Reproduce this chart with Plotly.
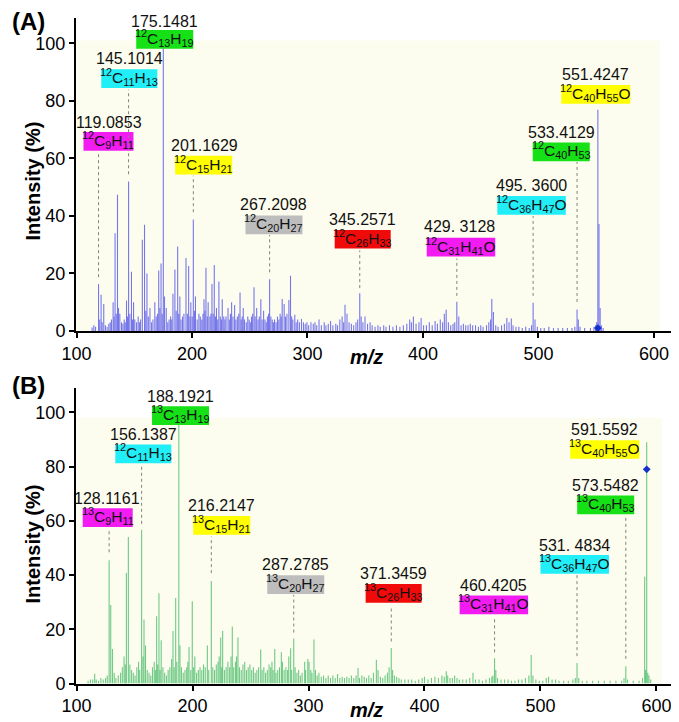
import plotly.graph_objects as go

# ---------------- data: panel A (12C) ----------------
A_mz = [113.5, 115, 116.5, 119.09, 120.1, 121.3, 122.2, 123.6, 125, 126.5,
        128, 129.2, 130.3, 131.7, 132.5, 133.4, 134.4, 135.5, 136.4, 137.5,
        139, 140.2, 141.3, 142.2, 143.3, 144.2, 145.10, 146.2, 147.6, 148.5,
        149.4, 150.5, 152, 153.4, 154.5, 155.5, 157.0, 158.9, 160.0, 161.0,
        162.2, 163.6, 165, 166.2, 167.8, 169, 170.2, 171.2, 172.2, 173.2,
        174.2, 175.15, 176.2, 177.7, 179, 180.2, 181.5, 182.5, 183.5, 185.2,
        186.3, 187.6, 188.5, 189.5, 190.5, 191.8, 193, 194.8, 196, 197.1,
        198.2, 199, 200.2, 201.16, 202.2, 203, 204.5, 206, 207.2, 208.5,
        209.5, 210.4, 211.2, 212.1, 213.2, 214, 215.5, 216.4, 217.3, 218.3,
        219.3, 220.3, 221.2, 222.3, 223.3, 224.5, 225.4, 226.2, 227.5, 228.5,
        229.5, 231.2, 232.3, 233.3, 234.3, 235.5, 236.9, 238, 239.3, 240.5,
        241.6, 242.6, 243.5, 244.4, 245.5, 247, 248.3, 249.5, 250.5, 251.5,
        252.5, 253.7, 254.7, 256, 257.2, 258.3, 259.6, 260.7, 262, 263.2,
        264.3, 265.3, 266.3, 267.21, 268.3, 269.5, 270.5, 271.5, 272.8, 274,
        275.2, 276.3, 277.2, 278.1, 279.8, 281, 282.2, 283.9, 285.3, 286.3,
        287.3, 289, 290.2, 291.5, 293, 294.8, 296.5, 298, 299.5, 301,
        303, 305, 306.5, 308, 310, 312, 314.5, 316, 318, 320,
        322, 324.5, 326, 328, 330, 331.3, 332.5, 334.2, 336, 338,
        340, 342, 343.5, 345.26, 346.5, 348, 349.8, 352, 354.2, 356,
        358.5, 361, 363, 366, 368, 371, 374, 377, 380, 383,
        386, 388.5, 390, 391.7, 394, 396.5, 398.4, 400.5, 403, 405.5,
        408, 410.5, 412.5, 415, 417, 418.5, 420.1, 422, 424, 426,
        427.5, 429.31, 431, 433, 435, 437, 439, 441, 443, 445.5,
        448, 450, 452, 455, 457, 458.5, 459.6, 461, 463, 465,
        468, 470.5, 472.6, 474.5, 476.5, 478, 480.5, 483, 486, 489,
        492, 494, 495.36, 497, 499, 502, 505, 509, 513, 517,
        521, 525, 529, 531.5, 533.41, 534.5, 536, 540, 545, 548,
        549.5, 550.4, 551.42, 552.4, 553.4, 554.5, 556]
A_int = [1.2, 2.0, 1.5, 16.3, 4, 12.6, 3, 9.4, 2, 1.5,
         2.5, 3, 4, 10, 5, 34, 6, 47.4, 8, 6,
         3, 2.5, 4, 3, 10.6, 5, 52, 6, 20.6, 4,
         10, 4, 3, 5, 3, 4, 31.7, 36.9, 7, 20,
         5, 8, 3, 4, 10, 5, 6, 21, 8, 23.5,
         6, 100, 12, 8, 3, 4, 5, 4, 12.9, 21.4,
         7, 29.4, 6, 12, 4, 5, 6, 25.4, 6, 22.6,
         5, 10, 5, 38.8, 7, 12, 4, 6, 5, 4,
         6, 11, 7, 22, 5, 10, 5, 6, 16.3, 6,
         22.9, 5, 8, 4, 17.2, 5, 4, 11, 5, 4,
         5, 8, 4, 6, 10, 5, 9, 4, 5, 6,
         13.4, 4, 5, 8, 4, 3, 5, 4, 3, 5,
         6, 15.2, 5, 8, 4, 5, 11, 4, 7, 4,
         3, 5, 6, 18, 5, 4, 3, 4, 3, 5,
         4, 6, 5, 11.1, 9.4, 5, 6, 10.8, 19.2, 5,
         4, 5.6, 3, 4, 3, 4.2, 3, 2.5, 3, 2,
         3, 2.5, 3, 2, 4, 2, 3, 2, 2.5, 3.5,
         2, 2.5, 2, 4, 5, 3, 9.1, 6, 3, 2.5,
         2, 3, 4, 13.1, 5, 3, 5, 2.5, 3, 2,
         1.5, 2, 1.5, 2, 1.5, 2, 1.5, 2, 1.5, 2,
         2.5, 4, 3, 5, 2.5, 3, 4.5, 2, 2, 3,
         2, 3.5, 2.5, 4, 3, 6, 7.4, 3, 2, 2.5,
         3, 10.2, 5, 2, 2.5, 2, 2, 2.5, 2, 2,
         1.5, 2, 1.5, 2, 3, 4, 11.1, 6.6, 2, 1.5,
         2, 2.5, 4.5, 3, 4.3, 2, 1.5, 1.5, 1, 1.5,
         1, 2, 9.8, 4, 1.5, 1, 1, 1.5, 1, 1,
         1, 1, 1, 1.5, 7.5, 4, 1.5, 1, 1, 1.5,
         2, 3, 76.9, 37.2, 8, 2, 1]

# ---------------- data: panel B (13C) ----------------
B_mz = [110, 112, 114, 115.7, 117, 119, 121, 123, 125, 126.5,
        128.12, 129.5, 131, 132.5, 134, 136, 138, 139.5, 141, 142,
        143, 144.7, 146, 147.5, 149, 150.5, 152, 153.5, 154.5, 156.14,
        157.3, 158.2, 159.5, 161, 162.5, 164, 165.5, 167, 168, 169.1,
        170, 171.1, 172, 173, 174.5, 176, 177.5, 179, 180.5, 182,
        183.2, 184.2, 185.5, 186.5, 188.19, 189.2, 190.5, 192, 193.5, 195,
        196, 197, 198.5, 199.8, 201, 202, 203.5, 205, 206.5, 208,
        209.5, 211, 212.8, 214, 216.21, 217.5, 219, 220.5, 222, 223,
        224.3, 225.2, 226, 227.5, 229, 230.5, 232, 233.2, 234.3, 235.5,
        237, 238, 239.2, 240.5, 242, 243.5, 245, 246.5, 248, 249.5,
        251, 252.5, 254, 255.5, 257, 258.8, 260, 261.5, 263, 264.5,
        266, 267.4, 268.5, 269.5, 270.9, 272, 273.5, 275, 276.6, 277.5,
        279, 280.5, 282, 283, 284.6, 285.5, 287.28, 288.5, 290, 291.5,
        293, 294.5, 296.7, 297.5, 299.4, 300.5, 302, 303, 304.7, 306,
        307.5, 309, 311, 313, 315, 317, 319, 321, 323, 325,
        327, 329, 331, 333, 335, 337, 339, 341, 342.7, 344,
        346, 348, 350, 352, 354, 356, 358.5, 360, 362, 364,
        366, 368, 369.5, 371.35, 372.5, 374, 376, 378, 380, 383,
        386, 389, 392, 395, 398, 400, 403, 406, 409, 412,
        415, 417, 418.8, 420, 422, 424, 426, 428, 430, 433,
        436, 439, 441.8, 444, 447, 450, 453, 456, 458, 459,
        460.42, 461.5, 463, 466, 469, 472, 475, 478, 481, 484,
        487, 490, 492, 493.5, 496, 499, 502, 505, 507, 510,
        513, 516, 520, 524, 528, 530, 531.48, 533, 536, 540,
        545, 550, 555, 560, 565, 570, 572, 573.55, 575, 580,
        585, 588, 589.8, 590.6, 591.56, 592.5, 593.5, 595]
B_int = [1, 1.5, 1.5, 3.6, 1.5, 1, 2, 1.5, 2, 3,
         45.5, 29, 12.7, 4, 2, 3, 4, 6, 10, 7,
         40.8, 54, 7, 5, 4, 3, 6, 8, 5, 56.7,
         10, 23.6, 14, 5, 4, 3, 6, 8, 5, 24.8,
         7, 33.3, 5, 16, 6, 4, 3, 5, 6, 9,
         19.4, 6, 31.5, 8, 100, 14, 6, 4, 5, 6,
         8, 13.5, 5, 30.3, 6, 10, 4, 5, 6, 5,
         7, 6, 14, 5, 37.8, 6, 5, 7, 8, 10,
         17, 6, 19.4, 5, 6, 8, 6, 10, 21, 6,
         8, 10, 17, 6, 5, 7, 8, 5, 6, 7,
         5, 6, 4, 5, 6, 12.5, 5, 6, 4, 5,
         7, 6, 8, 5, 12.7, 4, 5, 6, 11.5, 8,
         5, 6, 5, 10, 13, 5, 16.6, 6, 4, 5,
         3, 4, 8, 5, 9, 8, 5, 4, 16.2, 5,
         3, 4, 2.5, 3, 2, 3, 2, 3, 2, 3.5,
         2, 2.5, 2, 2.5, 2, 3, 2, 3, 5.7, 2,
         3, 2.5, 2, 3, 2, 4, 8.8, 5, 2.5, 2,
         3, 4, 6, 13.1, 5, 3, 2.5, 2, 1.5, 1.5,
         1.5, 1.5, 1, 1.5, 2, 2.5, 1.5, 2, 2.5, 2,
         3, 2.5, 4.5, 3, 2, 2, 3, 2, 1.5, 1.5,
         1.5, 2, 4, 1.5, 1.5, 1, 1.5, 2, 2.5, 3,
         9.3, 5, 2, 1.5, 1.5, 1.5, 1, 1, 1.5, 1.5,
         2, 3, 10.5, 3, 1.5, 1, 1, 2, 2.5, 1.5,
         1.5, 1, 1, 1, 1.5, 2, 7.6, 2, 1, 1,
         1, 1, 1, 1, 1, 1, 2, 6.4, 1.5, 1,
         1, 2, 39.4, 5, 89, 4, 3, 1.5]

# marked precursor points (blue markers)
A_mark_mz = [551.42]
A_mark_int = [1.0]
B_mark_mz = [591.56]
B_mark_int = [79.0]

# ---------------- labels ----------------
A_numbers = ["119.0853", "145.1014", "175.1481", "201.1629", "267.2098",
             "345.2571", "429. 3128", "495. 3600", "533.4129", "551.4247"]
A_formulas = ["<sup>12</sup>C<sub>9</sub>H<sub>11</sub>",
              "<sup>12</sup>C<sub>11</sub>H<sub>13</sub>",
              "<sup>12</sup>C<sub>13</sub>H<sub>19</sub>",
              "<sup>12</sup>C<sub>15</sub>H<sub>21</sub>",
              "<sup>12</sup>C<sub>20</sub>H<sub>27</sub>",
              "<sup>12</sup>C<sub>26</sub>H<sub>33</sub>",
              "<sup>12</sup>C<sub>31</sub>H<sub>41</sub>O",
              "<sup>12</sup>C<sub>36</sub>H<sub>47</sub>O",
              "<sup>12</sup>C<sub>40</sub>H<sub>53</sub>",
              "<sup>12</sup>C<sub>40</sub>H<sub>55</sub>O"]
B_numbers = ["128.1161", "156.1387", "188.1921", "216.2147", "287.2785",
             "371.3459", "460.4205", "531. 4834", "573.5482", "591.5592"]
B_formulas = ["<sup>13</sup>C<sub>9</sub>H<sub>11</sub>",
              "<sup>12</sup>C<sub>11</sub>H<sub>13</sub>",
              "<sup>13</sup>C<sub>13</sub>H<sub>19</sub>",
              "<sup>13</sup>C<sub>15</sub>H<sub>21</sub>",
              "<sup>13</sup>C<sub>20</sub>H<sub>27</sub>",
              "<sup>13</sup>C<sub>26</sub>H<sub>33</sub>",
              "<sup>13</sup>C<sub>31</sub>H<sub>41</sub>O",
              "<sup>13</sup>C<sub>36</sub>H<sub>47</sub>O",
              "<sup>13</sup>C<sub>40</sub>H<sub>53</sub>",
              "<sup>13</sup>C<sub>40</sub>H<sub>55</sub>O"]
box_colors = ["#f21cf2", "#22eef8", "#16e016", "#ffff00", "#bdbdbd",
              "#f00a0a", "#f21cf2", "#22eef8", "#16e016", "#ffff00"]
box_w_px = [50, 56, 57, 57, 57, 56, 68.5, 68.5, 57, 69]   # label box widths (px)
BOX_H_PX = 19
TEXT_SHIFT_PX = 1.5

# label placement (layout, in axis units)
A_num_pos = [(127.9, 72.6), (146.1, 94.6), (175.8, 107.8), (210.4, 64.6), (270.6, 43.9),
             (347.2, 38.9), (432.0, 36.2), (493.8, 50.5), (519.7, 69.2), (549.2, 89.1)]
A_box_pos = [(127.7, 65.9), (145.7, 87.8), (176.4, 101.4), (210.1, 57.7), (271.0, 36.9),
             (347.8, 31.9), (432.9, 29.2), (494.0, 43.7), (519.7, 62.3), (549.6, 82.3)]
A_leader = [(119.09, 61.6, 18.7), (145.10, 83.9, 54.5), None, (201.16, 54.0, 41.3),
            (267.21, 33.4, 20.4), (345.26, 28.0, 14.9), (429.31, 25.2, 12.2),
            (495.36, 40.0, 12.2), (533.41, 58.8, 10.1), None]
B_num_pos = [(126.6, 68.3), (157.9, 91.9), (189.5, 106.0), (224.8, 65.6), (288.6, 43.8),
             (373.4, 40.5), (459.9, 36.2), (529.5, 51.0), (556.2, 73.2), (555.3, 93.5)]
B_box_pos = [(126.9, 61.2), (157.6, 84.7), (189.7, 98.8), (225.2, 58.3), (289.0, 36.5),
             (373.4, 33.2), (459.8, 29.0), (529.5, 43.9), (556.2, 65.9), (555.4, 86.3)]
B_leader = [(128.12, 56.4, 48.4), (156.14, 80.0, 58.9), None, (216.21, 54.2, 40.7),
            (287.28, 32.7, 18.8), (371.35, 28.7, 15.5), (460.42, 24.4, 11.5),
            (531.48, 40.0, 10.1), (573.55, 61.5, 9.1), None]

FONT = "Arial, 'Liberation Sans', sans-serif"
W, H = 679, 722
L = 68
A_XR = [99.57, 628.6]
B_XR = [99.57, 626.3]
A_YR = [0, 108.9]
B_YR = [0, 109.1]
A_DOM = [1 - 327.5 / H, 1 - 10 / H]
B_DOM = [1 - 685 / H, 1 - 385 / H]


def stems(mz, inten):
    xs, ys = [], []
    for m, v in zip(mz, inten):
        xs += [m, m, None]
        ys += [0, v, None]
    return xs, ys


fig = go.Figure()
ax, ay = stems(A_mz, A_int)
fig.add_trace(go.Scatter(x=ax, y=ay, mode="lines", line=dict(color="rgba(85,85,235,0.8)", width=1.1),
                         xaxis="x", yaxis="y", hoverinfo="skip", showlegend=False))
bx, by = stems(B_mz, B_int)
fig.add_trace(go.Scatter(x=bx, y=by, mode="lines", line=dict(color="rgba(50,180,90,0.7)", width=1.1),
                         xaxis="x2", yaxis="y2", hoverinfo="skip", showlegend=False))
fig.add_trace(go.Scatter(x=A_mark_mz, y=A_mark_int, mode="markers",
                         marker=dict(symbol="diamond", size=6, color="#1530c8"),
                         xaxis="x", yaxis="y", showlegend=False))
fig.add_trace(go.Scatter(x=B_mark_mz, y=B_mark_int, mode="markers",
                         marker=dict(symbol="diamond", size=6, color="#1530c8"),
                         xaxis="x2", yaxis="y2", showlegend=False))

shapes = []
annotations = []
# cream plot backgrounds
shapes.append(dict(type="rect", xref="x", yref="y", x0=100, x1=605, y0=0, y1=101,
                   fillcolor="#fdfdef", line=dict(width=0), layer="below"))
shapes.append(dict(type="rect", xref="x2", yref="y2", x0=100, x1=605, y0=0, y1=98,
                   fillcolor="#fdfdef", line=dict(width=0), layer="below"))


def add_labels(numbers, formulas, num_pos, box_pos, leaders, xr, yr, xrange, yrange, dom):
    pw = W - L
    ph = (dom[1] - dom[0]) * H
    xs = (xrange[1] - xrange[0]) / pw       # data units per pixel
    ys = (yrange[1] - yrange[0]) / ph
    for i in range(len(numbers)):
        if leaders[i] is not None:
            px, top, bot = leaders[i]
            shapes.append(dict(type="line", xref=xr, yref=yr, x0=px, x1=px, y0=bot, y1=top,
                               line=dict(color="#808080", width=1, dash="dot")))
        bxc, byc = box_pos[i]
        hw = box_w_px[i] / 2 * xs
        hh = BOX_H_PX / 2 * ys
        shapes.append(dict(type="rect", xref=xr, yref=yr, x0=bxc - hw, x1=bxc + hw,
                           y0=byc - hh, y1=byc + hh, fillcolor=box_colors[i],
                           line=dict(width=0), layer="above"))
        annotations.append(dict(xref=xr, yref=yr, x=num_pos[i][0], y=num_pos[i][1],
                                text=numbers[i], showarrow=False, xanchor="center", yanchor="middle",
                                font=dict(family=FONT, size=16, color="#111")))
        annotations.append(dict(xref=xr, yref=yr, x=bxc, y=byc + TEXT_SHIFT_PX * ys,
                                text=formulas[i], showarrow=False, xanchor="center", yanchor="middle",
                                borderpad=0, font=dict(family=FONT, size=15.5, color="#111")))


add_labels(A_numbers, A_formulas, A_num_pos, A_box_pos, A_leader, "x", "y", A_XR, A_YR, A_DOM)
add_labels(B_numbers, B_formulas, B_num_pos, B_box_pos, B_leader, "x2", "y2", B_XR, B_YR, B_DOM)

# panel letters and axis titles
for txt, ypix in [("<b>(A)</b>", 14), ("<b>(B)</b>", 383)]:
    annotations.append(dict(xref="paper", yref="paper", x=(20 - L) / (W - L), y=1 - ypix / H,
                            text=txt, showarrow=False, xanchor="center", yanchor="middle",
                            font=dict(family=FONT, size=24, color="black")))
for ypix in [175, 543]:
    annotations.append(dict(xref="paper", yref="paper", x=(25 - L) / (W - L), y=1 - ypix / H,
                            text="<b>Intensity (%)</b>", textangle=-90, showarrow=False,
                            xanchor="center", yanchor="middle",
                            font=dict(family=FONT, size=20, color="black")))
for ypix in [354, 712]:
    annotations.append(dict(xref="paper", yref="paper", x=(358 - L) / (W - L), y=1 - ypix / H,
                            text="<b><i>m/z</i></b>", showarrow=False,
                            xanchor="center", yanchor="middle",
                            font=dict(family=FONT, size=20, color="black")))

xax = dict(showline=True, linewidth=2, linecolor="black", ticks="outside", ticklen=5,
           tickwidth=1.5, tickcolor="black", tickvals=[100, 200, 300, 400, 500, 600],
           showgrid=False, zeroline=False, tickfont=dict(family=FONT, size=18, color="black"),
           domain=[0, 1])
yax = dict(showline=True, linewidth=2, linecolor="black", ticks="outside", ticklen=5,
           tickwidth=1.5, tickcolor="black", tickvals=[0, 20, 40, 60, 80, 100],
           showgrid=False, zeroline=False, tickfont=dict(family=FONT, size=18, color="black"))

fig.update_layout(
    width=W, height=H, margin=dict(l=L, r=0, t=0, b=0),
    paper_bgcolor="white", plot_bgcolor="white",
    xaxis=dict(xax, anchor="y", range=A_XR),
    yaxis=dict(yax, anchor="x", range=A_YR, domain=A_DOM),
    xaxis2=dict(xax, anchor="y2", range=B_XR),
    yaxis2=dict(yax, anchor="x2", range=B_YR, domain=B_DOM),
    shapes=shapes, annotations=annotations, showlegend=False,
    font=dict(family=FONT),
)

fig.write_html("out.html")
